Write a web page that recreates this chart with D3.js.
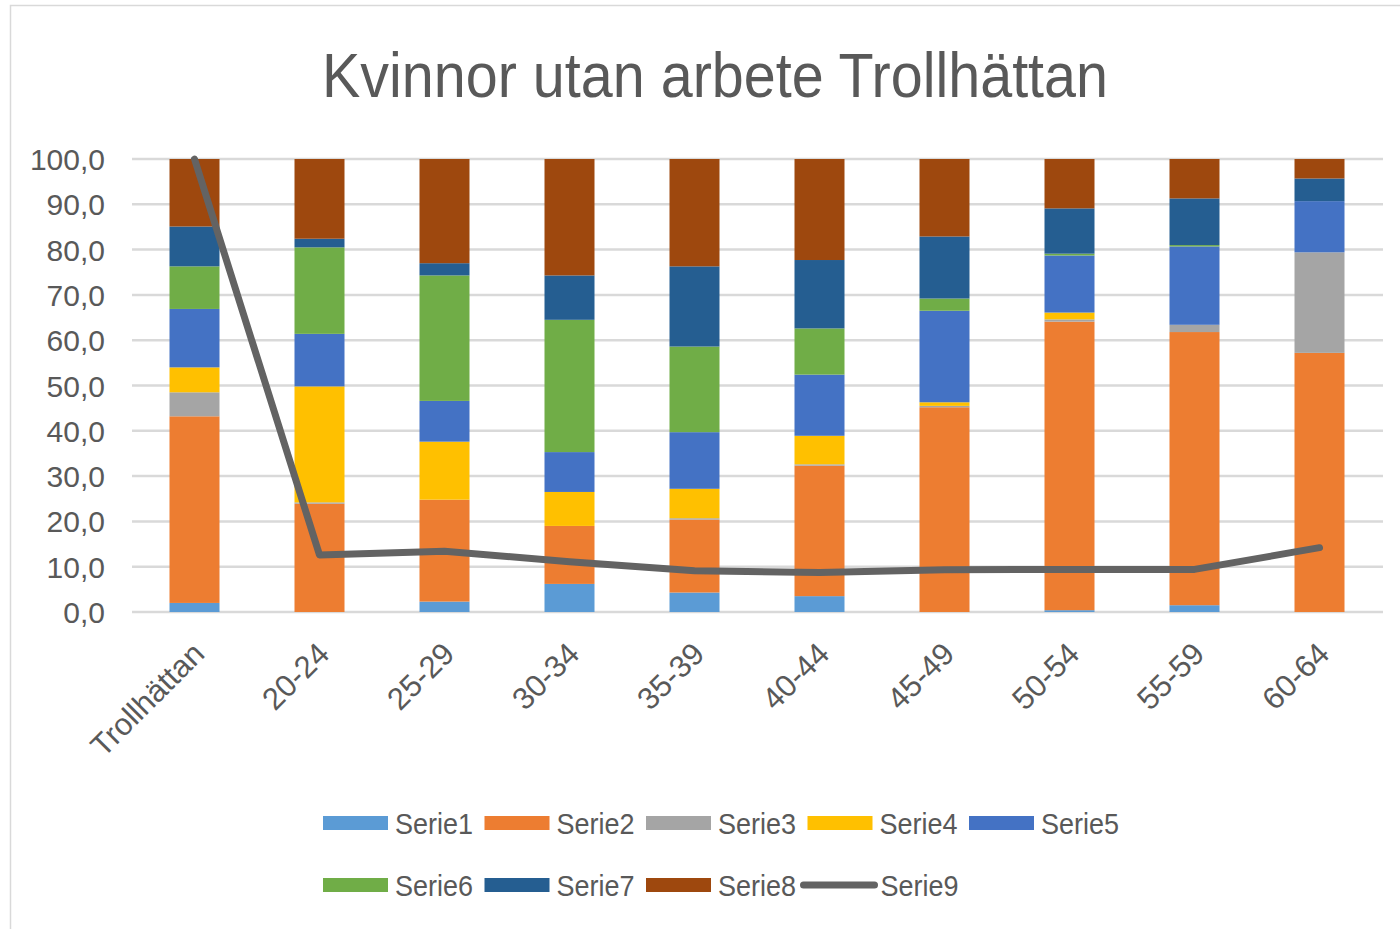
<!DOCTYPE html>
<html><head><meta charset="utf-8">
<script src="https://cdn.jsdelivr.net/npm/d3@7"></script>
<style>html,body{margin:0;padding:0;background:#fff;}svg{display:block;}</style>
</head><body>
<svg id="chart" width="1400" height="929"></svg>
<script>
const categories = ["Trollhättan","20-24","25-29","30-34","35-39","40-44","45-49","50-54","55-59","60-64"];
const serie1 = [2.0, 0, 2.3, 6.2, 4.3, 3.5, 0, 0.4, 1.5, 0];
const serie2 = [41.2, 23.9, 22.5, 12.8, 16.1, 28.8, 45.2, 63.7, 60.3, 57.2];
const serie3 = [5.3, 0.3, 0, 0, 0.3, 0.3, 0.3, 0.5, 1.6, 22.2];
const serie4 = [5.5, 25.6, 12.8, 7.5, 6.5, 6.3, 0.8, 1.5, 0, 0];
const serie5 = [12.9, 11.6, 9.0, 8.8, 12.5, 13.5, 20.2, 12.6, 17.3, 11.3];
const serie6 = [9.4, 19.1, 27.7, 29.2, 18.9, 10.2, 2.7, 0.4, 0.3, 0];
const serie7 = [8.8, 1.9, 2.7, 9.8, 17.7, 15.1, 13.7, 10.0, 10.3, 5.0];
const serie8 = [14.9, 17.6, 23.0, 25.7, 23.7, 22.3, 17.1, 10.9, 8.7, 4.3];
const serie9 = [100, 12.6, 13.4, 11.1, 9.1, 8.7, 9.3, 9.4, 9.4, 14.2];
const barSeriesNames = ["Serie1","Serie2","Serie3","Serie4","Serie5","Serie6","Serie7","Serie8"];
const lineSeriesName = "Serie9";
const yTicks = [0,10,20,30,40,50,60,70,80,90,100];
const title = "Kvinnor utan arbete Trollhättan";
const colors = ["#5B9BD5","#ED7D31","#A5A5A5","#FFC000","#4472C4","#70AD47","#255E91","#9E480E","#636363"];

const barSeries = [serie1,serie2,serie3,serie4,serie5,serie6,serie7,serie8];
const rows = categories.map((c,i)=>{const r={cat:c}; barSeriesNames.forEach((n,k)=>r[n]=barSeries[k][i]); return r;});

const svg = d3.select("#chart");
const font = "'Liberation Sans', Arial, sans-serif";
const textColor = "#595959";

svg.append("rect").attr("x",10.5).attr("y",5.5).attr("width",1400).attr("height",930)
  .attr("fill","#fff").attr("stroke","#d9d9d9").attr("stroke-width",1.5);

svg.append("text").attr("x",715).attr("y",97).attr("text-anchor","middle")
  .attr("font-family",font).attr("font-size",63).attr("fill",textColor)
  .attr("textLength",786).attr("lengthAdjust","spacingAndGlyphs").text(title);

const x = d3.scaleBand().domain(categories).range([132,1382]).paddingInner(0.6).paddingOuter(0.3);
const y = d3.scaleLinear().domain([0,100]).range([612,159]);

// gridlines
svg.append("g").selectAll("line").data(yTicks).join("line")
  .attr("x1",132).attr("x2",1383).attr("y1",d=>y(d)).attr("y2",d=>y(d))
  .attr("stroke","#d9d9d9").attr("stroke-width",2.5);

// y labels
const yAxis = d3.axisLeft(y).tickValues(yTicks).tickFormat(d=>d3.format(".1f")(d).replace(".",",")).tickSize(0).tickPadding(0);
const ya = svg.append("g").attr("transform","translate(105,0)").call(yAxis);
ya.select(".domain").remove();
ya.selectAll("text").attr("font-family",font).attr("font-size",30).attr("fill",textColor).attr("dy","0.35em");

// stacked bars
const stack = d3.stack().keys(barSeriesNames)(rows);
svg.append("g").selectAll("g").data(stack).join("g").attr("fill",(d,i)=>colors[i])
  .selectAll("rect").data(d=>d).join("rect")
  .attr("x",d=>x(d.data.cat)).attr("width",x.bandwidth())
  .attr("y",d=>y(d[1])).attr("height",d=>Math.max(0,y(d[0])-y(d[1])));

// line
const cx = c => x(c)+x.bandwidth()/2;
svg.append("path").datum(serie9)
  .attr("d", d3.line().x((d,i)=>cx(categories[i])).y(d=>y(d)))
  .attr("fill","none").attr("stroke",colors[8]).attr("stroke-width",7)
  .attr("stroke-linecap","round").attr("stroke-linejoin","round");

// x labels
svg.append("g").selectAll("text").data(categories).join("text")
  .attr("transform",d=>`translate(${cx(d)+4},648) rotate(-45)`)
  .attr("text-anchor","end").attr("dy","0.35em")
  .attr("font-family",font).attr("font-size",31).attr("fill",textColor).text(d=>d);

// legend
const legendItems = barSeriesNames.concat([lineSeriesName]);
const legendPos = (i)=> i<5 ? {x:323+i*161.5, y:823} : {x:323+(i-5)*161.5, y:885};
const lg = svg.append("g");
legendItems.forEach((n,i)=>{
  const p = legendPos(i);
  if (i<8) {
    lg.append("rect").attr("x",p.x).attr("y",p.y-7).attr("width",65).attr("height",14).attr("fill",colors[i]);
  } else {
    lg.append("line").attr("x1",p.x-4).attr("x2",p.x+67).attr("y1",p.y).attr("y2",p.y)
      .attr("stroke",colors[8]).attr("stroke-width",7).attr("stroke-linecap","round");
  }
  lg.append("text").attr("x", i<8 ? p.x+72 : p.x+73).attr("y",p.y).attr("dy","0.35em")
    .attr("font-family",font).attr("font-size",30).attr("fill",textColor)
    .attr("textLength",78).attr("lengthAdjust","spacingAndGlyphs").text(n);
});
</script>
</body></html>
